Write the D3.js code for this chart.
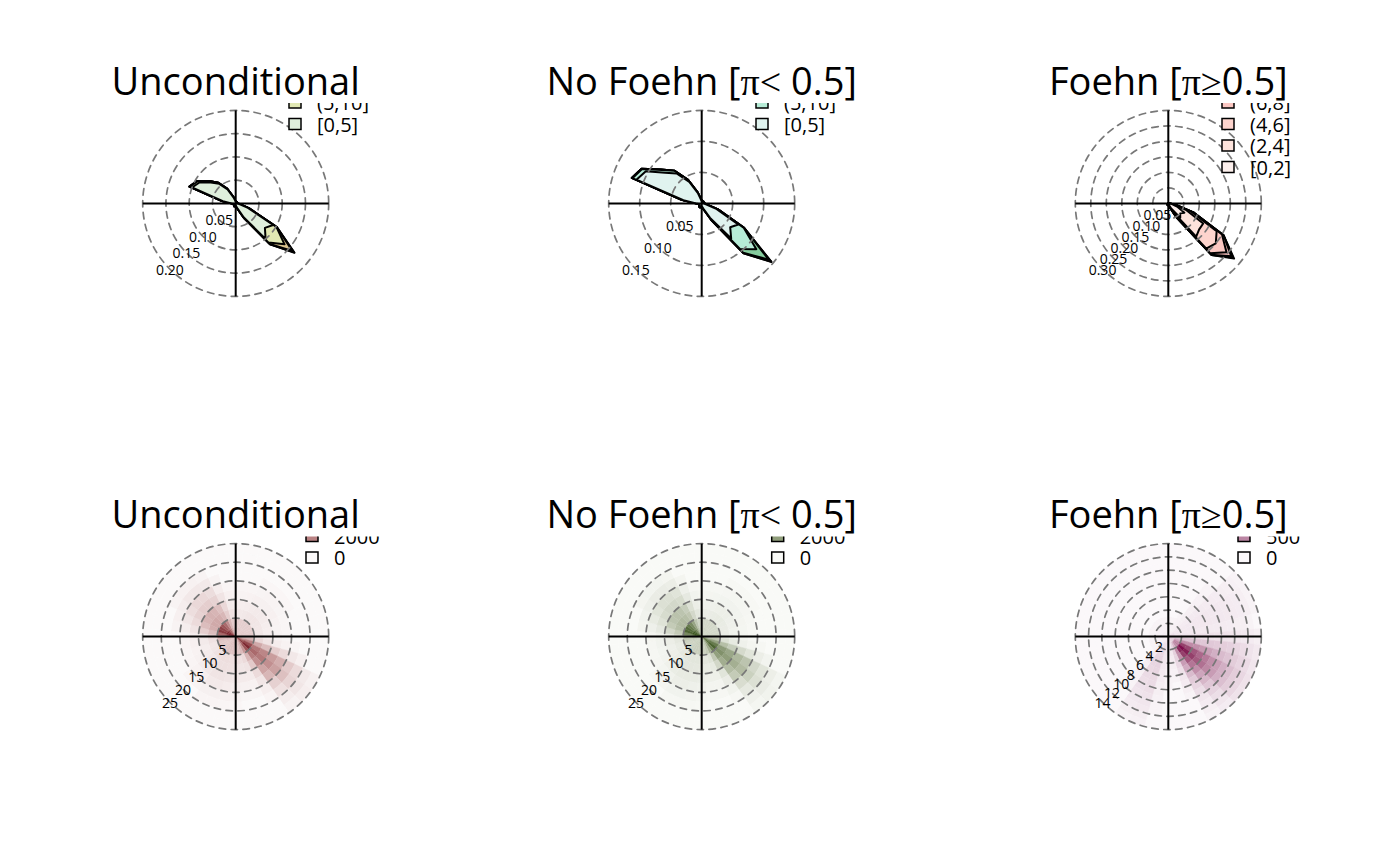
<!DOCTYPE html>
<html><head><meta charset="utf-8">
<script src="https://cdn.jsdelivr.net/npm/d3@7"></script>
<style>body{margin:0;background:#fff} svg{display:block}</style>
</head><body>
<svg id="chart" width="1400" height="866"></svg>
<script>
// ---------------- DATA ----------------
const directions = [0,10,20,30,40,50,60,70,80,90,100,110,120,130,140,150,160,170,180,190,200,210,220,230,240,250,260,270,280,290,300,310,320,330,340,350];

// Top row: density windroses (one array per wind-speed class, values per direction)
const uncClasses = ["[0,5]","(5,10]","(10,15]","(15,20]","(20,25]"];
const uncD0 = [.004,.003,.003,.003,.003,.003,.003,.003,.003,.004,.008,.028,.093,.082,.100,.035,.012,.006,.005,.005,.006,.006,.005,.004,.004,.004,.005,.009,.028,.100,.090,.070,.055,.035,.014,.006];
const uncD1 = [.001,.001,.001,.001,.001,.001,.001,.001,.001,.001,.001,.002,.008,.055,.010,.002,.001,.001,.001,.001,.001,.001,.001,.001,.001,.001,.001,.001,.002,.005,.005,.004,.003,.002,.001,.001];
const uncD2 = [0,0,0,0,0,0,0,0,0,0,0,0,.001,.022,.004,0,0,0,0,0,0,0,0,0,0,0,0,0,0,.001,.001,.001,0,0,0,0];
const uncD3 = [0,0,0,0,0,0,0,0,0,0,0,0,0,.005,.001,0,0,0,0,0,0,0,0,0,0,0,0,0,0,0,0,0,0,0,0,0];
const uncD4 = [0,0,0,0,0,0,0,0,0,0,0,0,0,.001,0,0,0,0,0,0,0,0,0,0,0,0,0,0,0,0,0,0,0,0,0,0];

const nofClasses = ["[0,5]","(5,10]","(10,15]","(15,20]","(20,25]"];
const nofD0 = [.004,.003,.003,.003,.003,.003,.003,.003,.003,.004,.006,.024,.068,.060,.074,.027,.010,.006,.005,.005,.006,.006,.005,.004,.004,.004,.005,.009,.030,.112,.104,.077,.063,.040,.017,.006];
const nofD1 = [.001,.001,.001,.001,.001,.001,.001,.001,.001,.001,.001,.004,.010,.055,.022,.003,.001,.001,.001,.001,.001,.001,.001,.001,.001,.001,.001,.001,.003,.007,.007,.007,.006,.004,.002,.001];
const nofD2 = [0,0,0,0,0,0,0,0,0,0,0,0,.001,.026,.008,.001,0,0,0,0,0,0,0,0,0,0,0,0,0,.001,.001,.001,0,0,0,0];
const nofD3 = [0,0,0,0,0,0,0,0,0,0,0,0,0,.005,.001,0,0,0,0,0,0,0,0,0,0,0,0,0,0,0,0,0,0,0,0,0];
const nofD4 = [0,0,0,0,0,0,0,0,0,0,0,0,0,.001,0,0,0,0,0,0,0,0,0,0,0,0,0,0,0,0,0,0,0,0,0,0];

const foeClasses = ["[0,2]","(2,4]","(4,6]","(6,8]","(8,10]","(10,12]","(12,14]"];
const foeD0 = [.001,.001,.001,.001,.001,.001,.001,.001,.001,.003,.012,.030,.060,.050,.060,.020,.006,.003,.002,.002,.003,.003,.002,.001,.001,.001,.001,.001,.001,.001,.001,.001,.001,.001,.001,.001];
const foeD1 = [0,0,0,0,0,0,0,0,0,0,.006,.030,.070,.080,.080,.015,.003,0,0,0,.002,.002,0,0,0,0,0,0,0,0,0,0,0,0,0,0];
const foeD2 = [0,0,0,0,0,0,0,0,0,0,.003,.020,.050,.070,.050,.010,.002,0,0,0,.001,0,0,0,0,0,0,0,0,0,0,0,0,0,0,0];
const foeD3 = [0,0,0,0,0,0,0,0,0,0,0,.008,.020,.045,.020,.005,0,0,0,0,0,0,0,0,0,0,0,0,0,0,0,0,0,0,0,0];
const foeD4 = [0,0,0,0,0,0,0,0,0,0,0,0,.006,.020,.006,0,0,0,0,0,0,0,0,0,0,0,0,0,0,0,0,0,0,0,0,0];
const foeD5 = [0,0,0,0,0,0,0,0,0,0,0,0,0,.008,.001,0,0,0,0,0,0,0,0,0,0,0,0,0,0,0,0,0,0,0,0,0];
const foeD6 = [0,0,0,0,0,0,0,0,0,0,0,0,0,.004,0,0,0,0,0,0,0,0,0,0,0,0,0,0,0,0,0,0,0,0,0,0];

const densTicksUnc = [0.05,0.10,0.15,0.20];
const densTicksNof = [0.05,0.10,0.15];
const densTicksFoe = [0.05,0.10,0.15,0.20,0.25,0.30];

// Bottom row: 2D histograms (rows = directions, columns = wind-speed bins)
const speedBreaksWide = [0,2.5,5,7.5,10,12.5,15,17.5,20,22.5,25];
const speedBreaksFoe = [0,1,2,3,4,5,6,7,8,9,10,11,12,13,14];
const uncCounts = [
 [300,250,35,15,5,2,0,0,0,0],[300,250,35,15,5,2,0,0,0,0],[290,250,40,18,6,2,0,0,0,0],
 [290,260,50,25,10,4,1,0,0,0],[280,260,55,30,12,5,1,0,0,0],[280,260,55,30,12,5,1,0,0,0],
 [290,250,50,25,10,4,1,0,0,0],[300,260,45,20,6,2,0,0,0,0],[320,280,40,15,5,2,0,0,0,0],
 [380,320,50,18,5,2,0,0,0,0],[650,650,150,60,20,6,2,0,0,0],[1500,2000,900,500,250,120,40,10,0,0],
 [3500,4500,2400,1900,1200,800,300,120,30,8],[5500,6500,3000,2400,1600,1100,450,180,50,15],
 [3000,4000,2200,1600,1000,600,220,80,20,5],[1200,1400,600,300,120,50,15,3,0,0],
 [600,550,120,60,25,8,2,0,0,0],[450,380,80,50,25,8,2,0,0,0],[450,400,90,60,35,15,5,1,0,0],
 [450,400,95,75,50,22,8,2,0,0],[450,420,100,85,60,35,12,3,0,0],[430,400,100,85,60,35,12,3,0,0],
 [400,380,90,65,40,15,5,0,0,0],[380,350,70,40,18,6,2,0,0,0],[380,330,50,25,8,3,0,0,0,0],
 [420,350,45,20,6,2,0,0,0,0],[700,500,70,30,10,3,0,0,0,0],[1600,1000,150,50,15,5,0,0,0,0],
 [4000,3000,500,250,60,20,5,0,0,0],[7000,5500,800,500,120,50,10,0,0,0],
 [6500,5000,900,650,200,100,20,5,0,0],[5000,4000,900,700,250,150,40,8,0,0],
 [3500,3000,800,650,250,150,40,8,0,0],[2000,1700,600,450,200,110,30,5,0,0],
 [800,650,250,150,60,20,5,0,0,0],[400,320,80,30,10,3,0,0,0,0]
];
const nofCounts = [
 [300,250,35,15,5,2,0,0,0,0],[300,250,35,15,5,2,0,0,0,0],[290,250,40,18,6,2,0,0,0,0],
 [290,255,45,22,8,3,1,0,0,0],[280,255,50,25,10,4,1,0,0,0],[275,250,50,25,10,4,1,0,0,0],
 [280,240,45,20,8,3,1,0,0,0],[290,250,40,16,5,2,0,0,0,0],[310,270,35,12,4,1,0,0,0,0],
 [360,300,45,15,4,1,0,0,0,0],[600,600,140,55,18,5,2,0,0,0],[1400,1800,800,450,220,100,30,8,0,0],
 [3300,3900,2100,1600,1000,650,250,100,25,6],[5000,5600,2600,2000,1300,900,380,150,40,12],
 [2800,3500,1900,1350,850,500,180,65,16,4],[1100,1300,550,270,100,40,12,2,0,0],
 [570,520,110,55,22,7,2,0,0,0],[440,370,75,45,22,7,2,0,0,0],[440,390,85,55,32,13,4,1,0,0],
 [440,390,88,68,45,20,7,2,0,0],[440,405,90,75,52,30,10,2,0,0],[420,385,90,75,52,30,10,2,0,0],
 [395,372,85,62,38,14,5,0,0,0],[378,347,68,39,17,6,2,0,0,0],[378,328,49,25,8,3,0,0,0,0],
 [418,348,45,20,6,2,0,0,0,0],[698,498,70,30,10,3,0,0,0,0],[1598,998,150,50,15,5,0,0,0,0],
 [3998,2998,500,250,60,20,5,0,0,0],[6998,5498,800,500,120,50,10,0,0,0],
 [6498,4998,900,650,200,100,20,5,0,0],[4998,3998,900,700,250,150,40,8,0,0],
 [3498,2998,800,650,250,150,40,8,0,0],[1998,1698,600,450,200,110,30,5,0,0],
 [798,648,250,150,60,20,5,0,0,0],[398,318,80,30,10,3,0,0,0,0]
];
const foeCounts = [
 [3,2,1,0,0,0,0,0,0,0,0,0,0,0],[3,2,1,0,0,0,0,0,0,0,0,0,0,0],[3,2,1,0,0,0,0,0,0,0,0,0,0,0],
 [4,3,2,1,0,0,0,0,0,0,0,0,0,0],[6,4,3,3,3,3,2,2,1,1,0,0,0,0],[12,8,6,6,7,7,7,6,6,5,4,3,2,1],
 [20,10,8,9,10,10,10,9,9,8,6,5,3,1],[30,12,8,9,10,10,10,9,9,8,6,5,3,1],[35,15,9,8,8,8,7,7,6,5,4,3,1,0],
 [50,30,25,22,20,20,20,18,17,15,12,9,6,3],[60,80,100,100,95,90,85,75,65,55,40,28,16,8],
 [60,200,450,450,420,350,280,200,140,100,70,45,28,12],[80,450,1300,1200,1000,800,600,420,300,200,120,70,40,18],
 [80,550,1900,1700,1300,950,700,480,320,200,120,70,40,18],[70,420,1600,1300,950,650,420,260,160,90,50,25,12,5],
 [50,170,450,420,320,220,140,80,45,25,12,6,3,1],[35,55,60,50,35,22,12,6,3,1,0,0,0,0],
 [18,12,8,6,4,2,1,0,0,0,0,0,0,0],[10,6,5,4,3,2,1,1,0,0,0,0,0,0],
 [10,10,12,12,10,8,6,4,3,2,1,1,0,0],[10,22,40,48,48,42,36,30,24,18,12,8,4,2],
 [8,18,34,42,42,36,30,24,19,14,9,6,3,1],[5,6,8,8,6,4,3,2,1,1,0,0,0,0],
 [4,2,1,0,0,0,0,0,0,0,0,0,0,0],[4,2,1,0,0,0,0,0,0,0,0,0,0,0],[4,2,1,0,0,0,0,0,0,0,0,0,0,0],
 [4,2,1,0,0,0,0,0,0,0,0,0,0,0],[4,2,1,0,0,0,0,0,0,0,0,0,0,0],[4,2,1,0,0,0,0,0,0,0,0,0,0,0],
 [4,2,1,0,0,0,0,0,0,0,0,0,0,0],[4,2,1,0,0,0,0,0,0,0,0,0,0,0],[4,2,1,0,0,0,0,0,0,0,0,0,0,0],
 [4,2,1,0,0,0,0,0,0,0,0,0,0,0],[3,2,1,0,0,0,0,0,0,0,0,0,0,0],[3,2,1,0,0,0,0,0,0,0,0,0,0,0],
 [3,2,1,0,0,0,0,0,0,0,0,0,0,0]
];
const histTicksWide = [5,10,15,20,25];
const histTicksFoe = [2,4,6,8,10,12,14];
const legendCountsWide = [0,2000,4000,6000,8000];
const legendCountsFoe = [0,500,1000,1500,2000];

const titleUnc = [["Unconditional","sans"]];
const titleNof = [["No Foehn [","sans"],["π<","serif"],[" 0.5]","sans"]];
const titleFoe = [["Foehn [","sans"],["π≥","serif"],["0.5]","sans"]];

// ---------------- STYLE / LAYOUT ----------------
const colUnc = ["#dfefdc","#e1e8b3","#dbc48f","#d49e85","#c67a82"];
const colNof = ["#e0f3ef","#b7ecd7","#86cc9e","#5aa97a","#3a8560"];
const colFoe = ["#fcefec","#fde3dc","#fdd4cd","#fbc7c2","#f7bcb9","#f2b0b0","#eca4a8"];
const rampUnc = ["#fbf9f9","#6e0a1f"];
const rampNof = ["#f9faf7","#2c4a0d"];
const rampFoe = ["#fbf8fa","#7a0048"];
const colorExponent = 0.5;

const R = 93;
const colX = [235.7, 701.7, 1168.3];
const rowY = [203.4, 636.6];
const titleY = [95, 528];
const clipTop = [103, 536.5];
const legendTopY = [38, 471.5];
const legendBoxX = [[289, 756, 1222], [306, 771.7, 1238]];
const legendStep = 21.5;
const SANS = "'Open Sans', 'Noto Sans', sans-serif";
const SERIF = "'Liberation Serif', 'DejaVu Serif', serif";

const svg = d3.select("#chart");
const rad = d => d * Math.PI / 180;

function drawTitle(parts, x, y) {
  const t = svg.append("text").attr("x", x).attr("y", y).attr("text-anchor", "middle")
    .attr("font-size", 38).attr("fill", "#000");
  parts.forEach(([s, f]) => t.append("tspan").text(s).attr("font-family", f === "serif" ? SERIF : SANS));
}

function drawGrid(g, rScale, ticks, fmt) {
  ticks.forEach(tk => {
    g.append("circle").attr("r", rScale(tk)).attr("fill", "none").attr("stroke", "#787878")
      .attr("stroke-width", 1.7).attr("stroke-dasharray", "6.5,5.5").attr("stroke-linecap", "round");
  });
  g.append("line").attr("x1", -R).attr("x2", R).attr("y1", 0).attr("y2", 0).attr("stroke", "#000").attr("stroke-width", 2);
  g.append("line").attr("y1", -R).attr("y2", R).attr("x1", 0).attr("x2", 0).attr("stroke", "#000").attr("stroke-width", 2);
  ticks.forEach(tk => {
    const r = rScale(tk);
    g.append("text").attr("x", -r * Math.SQRT1_2).attr("y", r * Math.SQRT1_2)
      .attr("text-anchor", "middle").attr("dominant-baseline", "central")
      .attr("font-family", SANS).attr("font-size", 14).attr("fill", "#000").text(fmt(tk));
  });
}

function drawLegend(row, col, labels, colors) {
  const cp = "clip-" + row + "-" + col;
  svg.append("clipPath").attr("id", cp).append("rect")
    .attr("x", colX[col] - 250).attr("y", clipTop[row]).attr("width", 500).attr("height", 400);
  const lg = svg.append("g").attr("clip-path", "url(#" + cp + ")");
  const n = labels.length;
  for (let i = 0; i < n; i++) {
    const k = n - 1 - i;
    const cy = legendTopY[row] + i * legendStep;
    lg.append("rect").attr("x", legendBoxX[row][col]).attr("y", cy - 5.5).attr("width", 12).attr("height", 11)
      .attr("fill", colors[k]).attr("stroke", "#000").attr("stroke-width", 1.5);
    lg.append("text").attr("x", legendBoxX[row][col] + 28).attr("y", cy)
      .attr("dominant-baseline", "central").attr("font-family", SANS).attr("font-size", 20)
      .attr("fill", "#000").text(labels[k]);
  }
}

function densityPanel(col, classes, series, colors, ticks, title) {
  const cx = colX[col], cy = rowY[0];
  const maxT = ticks[ticks.length - 1];
  const rScale = d3.scaleLinear().domain([0, maxT]).range([0, R]);
  const g = svg.append("g").attr("transform", `translate(${cx},${cy})`);
  const cum = [];
  series.forEach((s, k) => cum.push(s.map((v, i) => v + (k > 0 ? cum[k - 1][i] : 0))));
  const line = d3.lineRadial().angle((d, i) => rad(directions[i])).radius(d => rScale(d)).curve(d3.curveLinearClosed);
  for (let k = cum.length - 1; k >= 0; k--) {
    g.append("path").attr("d", line(cum[k])).attr("fill", colors[k])
      .attr("stroke", "#000").attr("stroke-width", 2).attr("stroke-linejoin", "round");
  }
  drawGrid(g, rScale, ticks, d3.format(".2f"));
  drawLegend(0, col, classes, colors);
  drawTitle(title, cx, titleY[0]);
}

function histPanel(col, counts, breaks, ramp, ticks, legendVals, title) {
  const cx = colX[col], cy = rowY[1];
  const maxT = ticks[ticks.length - 1];
  const rScale = d3.scaleLinear().domain([0, maxT]).range([0, R]);
  const tScale = d3.scalePow().exponent(colorExponent).domain([0, legendVals[legendVals.length - 1]]).range([0, 1]).clamp(true);
  const interp = d3.interpolateHcl(ramp[0], ramp[1]);
  const color = v => interp(tScale(v));
  const g = svg.append("g").attr("transform", `translate(${cx},${cy})`);
  const arc = d3.arc();
  counts.forEach((row, i) => {
    row.forEach((v, j) => {
      g.append("path").attr("d", arc({
        innerRadius: rScale(breaks[j]), outerRadius: rScale(breaks[j + 1]),
        startAngle: rad(directions[i] - 5), endAngle: rad(directions[i] + 5)
      })).attr("fill", color(v)).attr("stroke", color(v)).attr("stroke-width", 0.4);
    });
  });
  drawGrid(g, rScale, ticks, d3.format("d"));
  drawLegend(1, col, legendVals.map(String), legendVals.map(color));
  drawTitle(title, cx, titleY[1]);
}

densityPanel(0, uncClasses, [uncD0, uncD1, uncD2, uncD3, uncD4], colUnc, densTicksUnc, titleUnc);
densityPanel(1, nofClasses, [nofD0, nofD1, nofD2, nofD3, nofD4], colNof, densTicksNof, titleNof);
densityPanel(2, foeClasses, [foeD0, foeD1, foeD2, foeD3, foeD4, foeD5, foeD6], colFoe, densTicksFoe, titleFoe);
histPanel(0, uncCounts, speedBreaksWide, rampUnc, histTicksWide, legendCountsWide, titleUnc);
histPanel(1, nofCounts, speedBreaksWide, rampNof, histTicksWide, legendCountsWide, titleNof);
histPanel(2, foeCounts, speedBreaksFoe, rampFoe, histTicksFoe, legendCountsFoe, titleFoe);
</script>
</body></html>
